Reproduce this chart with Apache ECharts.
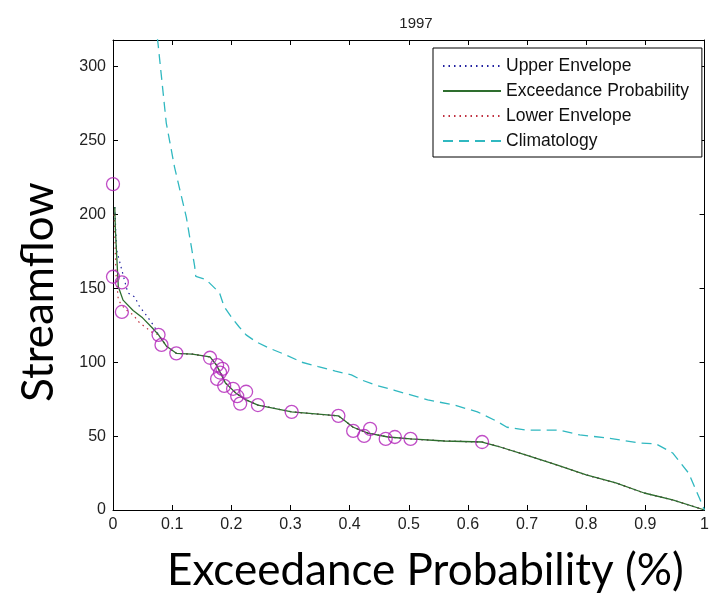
<!DOCTYPE html>
<html><head><meta charset="utf-8">
<script src="https://cdn.jsdelivr.net/npm/echarts@6/dist/echarts.min.js"></script>
<style>html,body{margin:0;padding:0;background:#fff}#c{width:712px;height:600px}</style>
</head><body><div id="c"></div>
<script>
const titleText = '1997';
const xLabel = 'Exceedance Probability (%)';
const yLabel = 'Streamflow';
const seriesNames = ['Upper Envelope', 'Exceedance Probability', 'Lower Envelope', 'Climatology'];

const exceedance = [[0.003,205],[0.004,190],[0.006,174],[0.009,151],[0.017,142],[0.034,135],[0.05,130],[0.067,123],[0.077,118.5],[0.09,111],[0.107,106],[0.134,105.5],[0.164,103.6],[0.175,98],[0.19,86],[0.208,79],[0.225,74.5],[0.245,71],[0.302,66.4],[0.342,65],[0.381,63.7],[0.406,56],[0.431,52],[0.465,49.4],[0.503,48.1],[0.56,46.7],[0.624,46],[0.649,43.3],[0.7,37],[0.75,30.5],[0.8,23.7],[0.85,18.3],[0.898,11.5],[0.946,6.8],[1,0]];
const upperHead = [[0.003,205],[0.006,176],[0.025,147],[0.037,144],[0.045,137.5],[0.054,133],[0.062,128.6],[0.07,124]];
const lowerHead = [[0.002,200],[0.005,160],[0.009,142],[0.02,136],[0.034,132],[0.045,126.6],[0.057,123],[0.065,120.5]];
const climatology = [[0.072,330],[0.076,316],[0.09,262],[0.104,232],[0.124,198],[0.138,165],[0.14,158],[0.157,156],[0.18,147],[0.188,137.5],[0.201,130],[0.213,124],[0.225,118.5],[0.242,113.8],[0.263,109.7],[0.292,105],[0.319,100],[0.347,97],[0.376,94],[0.403,91.4],[0.42,88],[0.443,84.6],[0.476,81],[0.532,74.5],[0.577,71],[0.616,66.4],[0.649,60],[0.666,56],[0.7,54],[0.755,54],[0.789,50.8],[0.834,48.8],[0.889,45.4],[0.918,44.7],[0.946,38.6],[0.973,25],[1,0]];
const observed = [[0,220.5],[0,157.8],[0.015,154],[0.015,134],[0.077,118.5],[0.082,111.7],[0.107,106],[0.164,103],[0.176,98],[0.185,95.5],[0.181,93],[0.176,88.7],[0.188,84],[0.203,82],[0.225,80],[0.21,77],[0.215,72],[0.245,71],[0.302,66.4],[0.381,63.7],[0.406,53.5],[0.4245,50.1],[0.4346,54.9],[0.461,48.1],[0.4765,49.4],[0.503,48.1],[0.624,46]];

const upperEnvelope = upperHead.concat(exceedance.slice(8));
const lowerEnvelope = lowerHead.concat(exceedance.slice(8));

const chart = echarts.init(document.getElementById('c'), null, {renderer:'canvas'});
const tickFont = {fontFamily:'Liberation Sans', fontSize:16, color:'#222'};
const axisCommon = {
  axisLine:{show:true, onZero:false, lineStyle:{color:'#000', width:1}},
  axisTick:{show:true, inside:true, length:5, lineStyle:{color:'#000'}},
  splitLine:{show:false}
};
chart.setOption({
  animation:false,
  backgroundColor:'#fff',
  title:{text:titleText, left:411, top:11, textAlign:'center',
    textStyle:{fontFamily:'Liberation Sans', fontSize:15, fontWeight:'normal', color:'#222'}},
  grid:{left:113, right:3, top:40, bottom:90, containLabel:false},
  legend:{
    orient:'vertical', left:433, top:48, data:seriesNames,
    backgroundColor:'#fff', borderColor:'#000', borderWidth:1, borderRadius:0,
    padding:[8,13,6,9], itemGap:5, itemWidth:58, itemHeight:14,
    itemStyle:{opacity:0},
    textStyle:{fontFamily:'Liberation Sans', fontSize:17.5, color:'#111', lineHeight:20},
    selectedMode:false
  },
  xAxis:[
    Object.assign({type:'value', min:0, max:1, interval:0.1, position:'bottom',
      axisLabel:Object.assign({margin:7}, tickFont)}, axisCommon),
    Object.assign({type:'value', min:0, max:1, interval:0.1, position:'top',
      axisLabel:{show:false}}, axisCommon)
  ],
  yAxis:[
    Object.assign({type:'value', min:0, max:318, interval:50, position:'left',
      axisLabel:Object.assign({margin:7, formatter:v => (v % 50 === 0 ? String(v) : '')}, tickFont)}, axisCommon),
    Object.assign({type:'value', min:0, max:318, interval:50, position:'right',
      axisLabel:{show:false}}, axisCommon)
  ],
  graphic:[
    {type:'text', left:167, top:549, style:{text:xLabel, font:'44px Lato', fill:'#000'}},
    {type:'text', rotation:Math.PI/2, x:17, y:402, style:{text:yLabel, font:'44px Lato', fill:'#000', textAlign:'left', textVerticalAlign:'top'}}
  ],
  series:[
    {name:seriesNames[0], type:'line', data:upperEnvelope, symbol:'none', z:2,
      lineStyle:{color:'#2020a0', width:1.2, type:[1.5,4]}, itemStyle:{color:'#2020a0'}},
    {name:seriesNames[2], type:'line', data:lowerEnvelope, symbol:'none', z:2,
      lineStyle:{color:'#c03040', width:1.2, type:[1.5,4]}, itemStyle:{color:'#c03040'}},
    {name:seriesNames[1], type:'line', data:exceedance, symbol:'none', z:3,
      lineStyle:{color:'#2e6e2e', width:1.3}, itemStyle:{color:'#2e6e2e'}},
    {name:seriesNames[3], type:'line', data:climatology, symbol:'none', z:3,
      lineStyle:{color:'#30b8c0', width:1.3, type:[10,6]}, itemStyle:{color:'#30b8c0'}},
    {name:'Observed', type:'scatter', data:observed, symbol:'circle', symbolSize:13, z:4, clip:false,
      itemStyle:{color:'rgba(0,0,0,0)', borderColor:'#b020b8', borderWidth:1.3}}
  ]
});
</script></body></html>
